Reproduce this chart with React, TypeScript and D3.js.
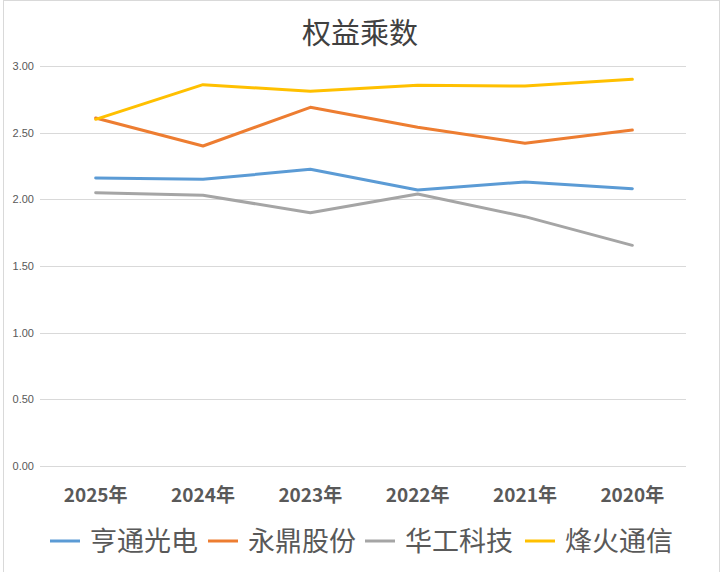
import * as d3 from "d3";
import React from "react";

const years = ["2025年", "2024年", "2023年", "2022年", "2021年", "2020年"];
const seriesNames = ["亨通光电", "永鼎股份", "华工科技", "烽火通信"];
const colors = ["#5b9bd5", "#ed7d31", "#a5a5a5", "#ffc000"];
const hengtong = [2.16, 2.15, 2.225, 2.07, 2.13, 2.08];
const yongding = [2.61, 2.4, 2.69, 2.54, 2.42, 2.52];
const huagong = [2.05, 2.03, 1.9, 2.04, 1.87, 1.655];
const fenghuo = [2.6, 2.86, 2.81, 2.855, 2.85, 2.9];
const yTicks = [0, 0.5, 1, 1.5, 2, 2.5, 3];

const width = 720;
const height = 572;
const marginTop = 66;
const marginBottom = 106;
const marginLeft = 42;
const marginRight = 34;

const App = () => {
  const series = [hengtong, yongding, huagong, fenghuo];
  const x = d3
    .scaleBand<string>()
    .domain(years)
    .range([marginLeft, width - marginRight]);
  const y = d3.scaleLinear([0, 3], [height - marginBottom, marginTop]);
  const line = d3
    .line<number>()
    .x((d, i) => (x(years[i]) ?? 0) + x.bandwidth() / 2)
    .y((d) => y(d));

  // legend layout: line swatch + label
  const legendX = [50, 208, 365, 525];

  return (
    <div style={{ position: "absolute", left: 0, top: 0 }}>
      <svg
        width={width}
        height={height}
        style={{ display: "block", fontFamily: "'Noto Sans CJK SC', 'Noto Sans', sans-serif" }}
      >
        <rect x={0} y={0} width={width} height={height} fill="#fff" />
        <rect x={3.5} y={0.5} width={width - 4} height={height} fill="none" stroke="#d9d9d9" />
        <text x={width / 2} y={44} textAnchor="middle" fontSize={29} fill="#404040">
          权益乘数
        </text>
        <g>
          {yTicks.map((t) => (
            <g key={t}>
              <line
                x1={marginLeft - 2}
                x2={width - marginRight}
                y1={Math.round(y(t)) + 0.5}
                y2={Math.round(y(t)) + 0.5}
                stroke="#d9d9d9"
              />
              <text
                x={34}
                y={y(t)}
                dy="0.35em"
                textAnchor="end"
                fontSize={11}
                fill="#595959"
                fontFamily="'Liberation Sans', Arial, sans-serif"
              >
                {d3.format(".2f")(t)}
              </text>
            </g>
          ))}
        </g>
        <g>
          {years.map((yr) => (
            <text
              key={yr}
              x={(x(yr) ?? 0) + x.bandwidth() / 2}
              y={502}
              textAnchor="middle"
              fontSize={19}
              fontWeight="bold"
              fill="#595959"
            >
              {yr}
            </text>
          ))}
        </g>
        <g fill="none" strokeWidth={3} strokeLinejoin="round" strokeLinecap="round">
          {series.map((s, i) => (
            <path key={seriesNames[i]} d={line(s) ?? undefined} stroke={colors[i]} />
          ))}
        </g>
        <g>
          {seriesNames.map((name, i) => (
            <g key={name} transform={`translate(${legendX[i]},541)`}>
              <line x1={0} x2={30} y1={0} y2={0} stroke={colors[i]} strokeWidth={3} />
              <text x={40} y={0} dy="0.36em" fontSize={27} fill="#595959">
                {name}
              </text>
            </g>
          ))}
        </g>
      </svg>
    </div>
  );
};

export default App;
